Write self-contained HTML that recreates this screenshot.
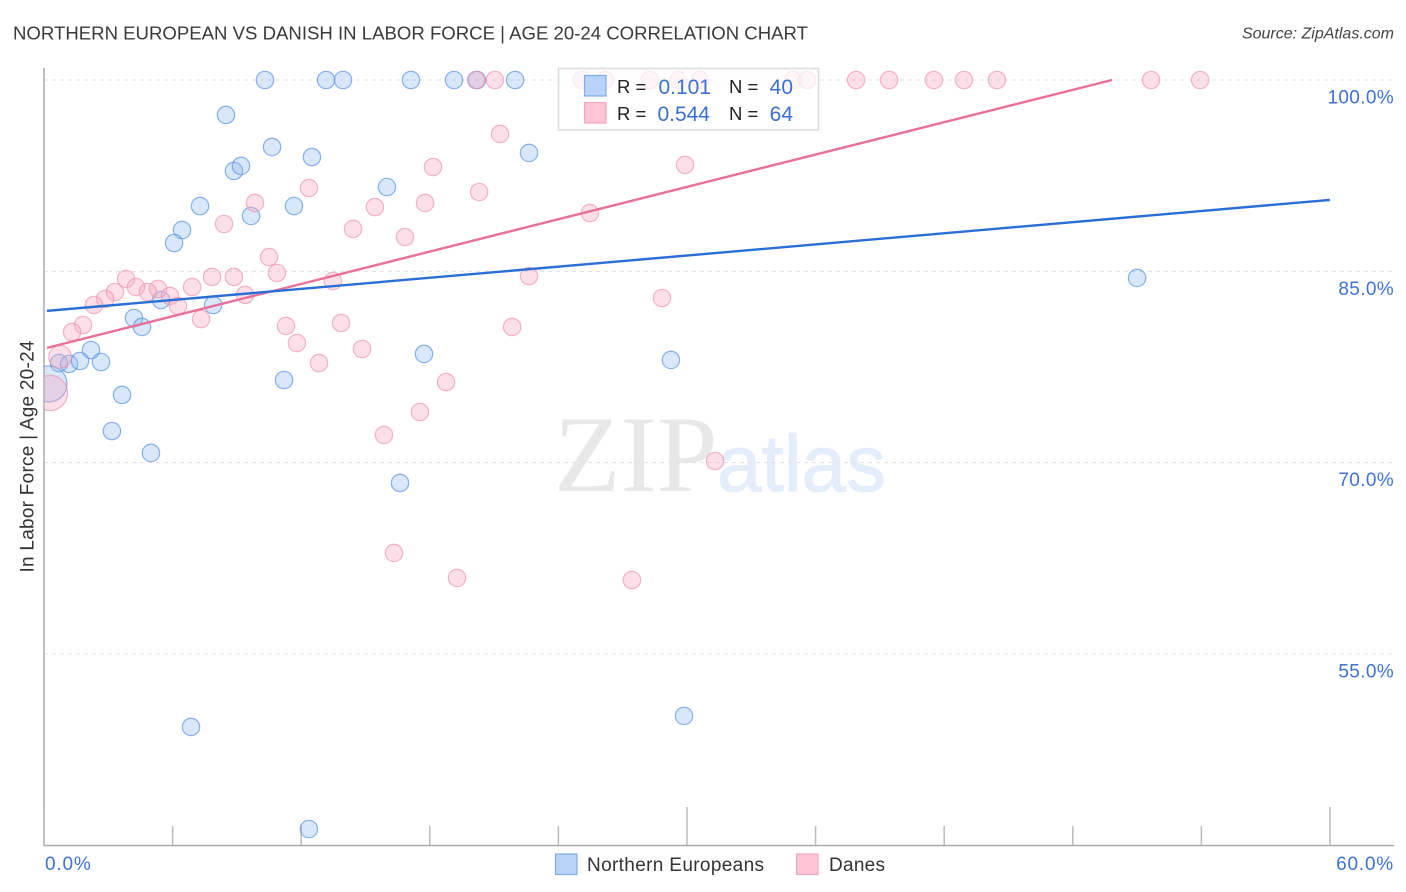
<!DOCTYPE html>
<html>
<head>
<meta charset="utf-8">
<title>Northern European vs Danish in Labor Force Correlation Chart</title>
<style>
html,body{margin:0;padding:0;background:#fff;width:1406px;height:892px;overflow:hidden}
svg{display:block;font-family:"Liberation Sans",sans-serif}
</style>
</head>
<body>
<svg id="chart" xmlns="http://www.w3.org/2000/svg" width="1406" height="892" viewBox="0 0 1406 892">
  <defs>
    <clipPath id="plot-clip"><rect x="44" y="60" width="1350" height="785"/></clipPath>
  </defs>
  <rect width="1406" height="892" fill="#fff"/>
  <text x="13" y="39.5" font-size="18.6" fill="#3a3a3a" textLength="795" lengthAdjust="spacingAndGlyphs">NORTHERN EUROPEAN VS DANISH IN LABOR FORCE | AGE 20-24 CORRELATION CHART</text>
  <text x="1394" y="38.5" font-size="16" font-style="italic" fill="#444" text-anchor="end">Source: ZipAtlas.com</text>

  <g>
    <text x="554" y="491" font-family="'Liberation Serif',serif" font-size="109" fill="#e8e8e8">ZIP</text>
    <text x="717" y="491" font-family="'Liberation Sans',sans-serif" font-size="80" fill="#e4edfb" stroke="#e4edfb" stroke-width="1">atlas</text>
  </g>

  <g id="grid"></g>
  <g id="axes"></g>
  <g id="points" clip-path="url(#plot-clip)"></g>
  <g id="trends"></g>
  <g id="labels"></g>

  <text transform="translate(33.5,456.5) rotate(-90)" font-size="19" fill="#333" text-anchor="middle" textLength="232">In Labor Force | Age 20-24</text>

  <g>
    <rect x="558.5" y="68.5" width="260" height="61.5" fill="#fff" fill-opacity="0.72" stroke="#dcdcdc" stroke-width="1.5"/>
    <rect x="584.5" y="75.5" width="21.5" height="20.5" fill="#b8d3f7" stroke="#7eaee8" stroke-width="1.2"/>
    <rect x="584.5" y="102.5" width="21.5" height="20.5" fill="#fdc5d6" stroke="#f2a6bf" stroke-width="1.2"/>
    <text x="617" y="93" font-size="18.5" fill="#222">R =</text>
    <text x="711" y="94" font-size="21" fill="#3a70cf" text-anchor="end">0.101</text>
    <text x="729" y="93" font-size="18.5" fill="#222">N =</text>
    <text x="793" y="94" font-size="21" fill="#3a70cf" text-anchor="end">40</text>
    <text x="617" y="120" font-size="18.5" fill="#222">R =</text>
    <text x="710" y="121" font-size="21" fill="#3a70cf" text-anchor="end">0.544</text>
    <text x="729" y="120" font-size="18.5" fill="#222">N =</text>
    <text x="793" y="121" font-size="21" fill="#3a70cf" text-anchor="end">64</text>
  </g>

  <g>
    <g>
      <rect x="555.5" y="854" width="21.5" height="20.5" fill="#b8d3f7" stroke="#7eaee8" stroke-width="1.2"/>
      <text x="587" y="871" font-size="19" fill="#333" textLength="177">Northern Europeans</text>
    </g>
    <g>
      <rect x="796.5" y="854" width="21.5" height="20.5" fill="#fdc5d6" stroke="#f2a6bf" stroke-width="1.2"/>
      <text x="829" y="871" font-size="19" fill="#333" textLength="56">Danes</text>
    </g>
  </g>
</svg>

<script>
const yTickValues = [100, 85, 70, 55];
const yTickLabels = ["100.0%", "85.0%", "70.0%", "55.0%"];
const xTickValues = [0, 6, 12, 18, 24, 30, 36, 42, 48, 54, 60];
const xMajorTicks = [0, 30, 60];
const xEdgeValues = [0, 60];
const xEdgeLabels = ["0.0%", "60.0%"];

const northernX = [10.31,13.16,13.95,17.12,19.13,20.20,21.98,8.49,10.64,12.50,8.86,9.19,22.63,16.00,7.28,11.66,9.66,6.44,6.07,51.00,7.89,5.46,4.20,4.57,2.19,0.70,1.17,1.68,2.66,17.73,29.25,11.20,3.64,3.17,4.99,16.61,29.86,6.86,12.36,0.23];
const northernY = [100,100,100,100,100,100,100,97.26,94.75,93.96,92.87,93.26,94.28,91.61,90.12,90.12,89.34,88.24,87.22,84.48,82.36,82.75,81.34,80.64,78.83,77.81,77.74,77.97,77.89,78.52,78.05,76.48,75.31,72.48,70.76,68.41,50.14,49.28,41.28,76.17];
const northernWeight = [1,1,1,1,1,1,1,1,1,1,1,1,1,1,1,1,1,1,1,1,1,1,1,1,1,1,1,1,1,1,1,1,1,1,1,1,1,1,1,4.3];

const danesX = [20.16,21.04,25.10,26.17,28.27,29.58,30.61,34.95,35.60,37.89,39.43,41.52,42.92,44.46,51.65,53.94,21.28,29.91,18.15,20.30,12.36,9.84,15.44,17.78,25.47,8.40,14.42,16.84,10.50,10.87,3.83,7.84,8.86,6.91,4.29,3.31,5.32,4.85,2.85,2.33,5.88,6.25,9.38,13.48,22.63,28.83,7.33,1.82,1.31,11.29,13.86,21.84,11.80,14.84,0.75,12.83,18.76,17.54,15.86,31.31,16.33,19.27,27.43,0.28];
const danesY = [100,100,100,100,100,100,100,100,100,100,100,100,100,100,100,100,95.77,93.34,93.18,91.22,91.53,90.36,90.04,90.36,89.57,88.71,88.32,87.69,86.12,84.87,84.40,84.56,84.56,83.77,83.77,83.38,83.62,83.38,82.83,82.36,83.07,82.28,83.15,84.24,84.63,82.91,81.26,80.79,80.24,80.72,80.95,80.64,79.38,78.91,78.29,77.81,76.32,73.97,72.17,70.13,62.92,60.96,60.80,75.46];
const danesWeight = [1,1,1,1,1,1,1,1,1,1,1,1,1,1,1,1,1,1,1,1,1,1,1,1,1,1,1,1,1,1,1,1,1,1,1,1,1,1,1,1,1,1,1,1,1,1,1,1,1,1,1,1,1,1,1.7,1,1,1,1,1,1,1,1,4.1];

const northernTrendX = [0.14, 60];
const northernTrendY = [81.9, 90.6];
const danesTrendX = [0.14, 49.83];
const danesTrendY = [79.0, 100];

const NS = "http://www.w3.org/2000/svg";
function xScale(v) { return 44 + (v / 60) * 1286; }
function yScale(v) { return 80 + (100 - v) * (191.33 / 15); }
function radius(w) { return 8.7 * Math.sqrt(w); }
function make(tag, attrs) {
  const el = document.createElementNS(NS, tag);
  for (const k in attrs) el.setAttribute(k, attrs[k]);
  return el;
}

const gridG = document.getElementById("grid");
const axesG = document.getElementById("axes");
const pointsG = document.getElementById("points");
const trendsG = document.getElementById("trends");
const labelsG = document.getElementById("labels");

yTickValues.forEach(function (v, i) {
  const line = make("line", { x1: 44, x2: 1394, y1: yScale(v), y2: yScale(v), stroke: "#e0e0e0", "stroke-width": 1, "stroke-dasharray": "4 4" });
  
  
  gridG.appendChild(line);

  const label = make("text", { x: 1394, y: yScale(v) + 23.5, "font-size": 19, "letter-spacing": 0.35, fill: "#3f72d3", "text-anchor": "end" });
  label.textContent = yTickLabels[i];
  
  
  labelsG.appendChild(label);
});

const yAxis = make("line", { x1: 44, x2: 44, y1: 68, y2: 845.5, stroke: "#aaa", "stroke-width": 1.5 });


axesG.appendChild(yAxis);

const xAxis = make("line", { x1: 44, x2: 1394, y1: 845.5, y2: 845.5, stroke: "#aaa", "stroke-width": 1.5 });


axesG.appendChild(xAxis);

xTickValues.forEach(function (v) {
  const top = xMajorTicks.indexOf(v) >= 0 ? 807 : 826;
  const tick = make("line", { x1: xScale(v), x2: xScale(v), y1: top, y2: 845, stroke: "#bbb", "stroke-width": 1.5 });
  
  
  axesG.appendChild(tick);
});

xEdgeValues.forEach(function (v, i) {
  const label = make("text", { x: i === 0 ? 45 : 1394, y: 870, "font-size": 19, "letter-spacing": 0.8, fill: "#3f72d3", "text-anchor": i === 0 ? "start" : "end" });
  label.textContent = xEdgeLabels[i];
  
  
  labelsG.appendChild(label);
});

northernX.forEach(function (v, i) {
  const c = make("circle", { cx: xScale(v), cy: yScale(northernY[i]), r: radius(northernWeight[i]), fill: "#8cb8f0", "fill-opacity": 0.34, stroke: "#5a93e2", "stroke-opacity": 0.7, "stroke-width": 1.2 });
  
  
  pointsG.appendChild(c);
});

danesX.forEach(function (v, i) {
  const c = make("circle", { cx: xScale(v), cy: yScale(danesY[i]), r: radius(danesWeight[i]), fill: "#f8abc3", "fill-opacity": 0.38, stroke: "#ec8fad", "stroke-opacity": 0.65, "stroke-width": 1.2 });
  
  
  pointsG.appendChild(c);
});

const danesTrend = make("line", { x1: xScale(danesTrendX[0]), y1: yScale(danesTrendY[0]), x2: xScale(danesTrendX[1]), y2: yScale(danesTrendY[1]), stroke: "#e8709b", "stroke-width": 2.4 });


trendsG.appendChild(danesTrend);

const northernTrend = make("line", { x1: xScale(northernTrendX[0]), y1: yScale(northernTrendY[0]), x2: xScale(northernTrendX[1]), y2: yScale(northernTrendY[1]), stroke: "#2a6fd6", "stroke-width": 2.4 });


trendsG.appendChild(northernTrend);
</script>
</body>
</html>
